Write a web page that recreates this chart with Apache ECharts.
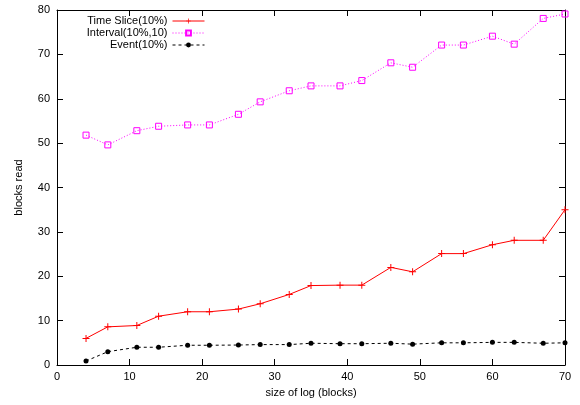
<!DOCTYPE html>
<html>
<head>
<meta charset="utf-8">
<script src="https://cdn.jsdelivr.net/npm/echarts@6/dist/echarts.min.js"></script>
<style>
html,body{margin:0;padding:0;background:#fff;}
#chart{width:580px;height:405px;}
</style>
</head>
<body>
<div id="chart"></div>
<script>
const logSizes = [4, 7, 11, 14, 18, 21, 25, 28, 32, 35, 39, 42, 46, 49, 53, 56, 60, 63, 67, 70];
const timeSlice = [6.0, 8.6, 8.9, 11.0, 12.0, 12.0, 12.6, 13.8, 15.9, 17.9, 18.0, 18.0, 22.0, 21.0, 25.1, 25.1, 27.1, 28.1, 28.1, 35.0];
const intervalVals = [51.8, 49.6, 52.8, 53.8, 54.1, 54.1, 56.5, 59.3, 61.8, 62.9, 62.9, 64.1, 68.1, 67.1, 72.1, 72.1, 74.1, 72.3, 78.1, 79.1];
const eventVals = [0.9, 3.0, 4.0, 4.0, 4.45, 4.45, 4.5, 4.6, 4.6, 4.9, 4.8, 4.8, 4.9, 4.7, 5.0, 5.0, 5.1, 5.1, 4.9, 5.0];
const seriesNames = ['Time Slice(10%)', 'Interval(10%,10)', 'Event(10%)'];
const xAxisName = 'size of log (blocks)';
const yAxisName = 'blocks read';

const pair = vals => logSizes.map((x, i) => [x, vals[i]]);
const font = 'Liberation Sans, Arial, Helvetica, sans-serif';
const plusPath = 'path://M3,0 H4 V3 H7 V4 H4 V7 H3 V4 H0 V3 H3 Z';

const baseX = {
  type: 'value', min: 0, max: 70, interval: 10,
  splitLine: {show: false},
  axisLine: {show: true, onZero: false, lineStyle: {color: '#000', width: 1}},
  axisTick: {show: true, inside: true, length: 6, lineStyle: {color: '#000'}}
};
const baseY = {
  type: 'value', min: 0, max: 80, interval: 10,
  splitLine: {show: false},
  axisLine: {show: true, onZero: false, lineStyle: {color: '#000', width: 1}},
  axisTick: {show: true, inside: true, length: 6, lineStyle: {color: '#000'}}
};

const chart = echarts.init(document.getElementById('chart'), null, {renderer: 'canvas'});
chart.setOption({
  animation: false,
  backgroundColor: '#fff',
  textStyle: {fontFamily: font},
  grid: {left: 57, right: 15, top: 10, bottom: 40, containLabel: false},
  legend: {
    orient: 'vertical', align: 'right', right: 370, top: 10,
    itemWidth: 32, itemHeight: 6, itemGap: 0,
    lineStyle: {width: 1},
    textStyle: {fontFamily: font, fontSize: 11, color: '#000', lineHeight: 12},
    data: seriesNames
  },
  xAxis: [
    Object.assign({}, baseX, {
      position: 'bottom',
      name: xAxisName, nameLocation: 'middle', nameGap: 22,
      nameTextStyle: {fontFamily: font, fontSize: 11, color: '#000'},
      axisLabel: {show: true, margin: 6, fontFamily: font, fontSize: 11, color: '#000'}
    }),
    Object.assign({}, baseX, {position: 'top', axisLabel: {show: false}})
  ],
  yAxis: [
    Object.assign({}, baseY, {
      position: 'left',
      name: yAxisName, nameLocation: 'middle', nameGap: 33, nameRotate: 90,
      nameTextStyle: {fontFamily: font, fontSize: 11, color: '#000'},
      axisLabel: {show: true, margin: 7, fontFamily: font, fontSize: 11, color: '#000'}
    }),
    Object.assign({}, baseY, {position: 'right', axisLabel: {show: false}})
  ],
  series: [
    {
      name: seriesNames[0], type: 'line', data: pair(timeSlice),
      xAxisIndex: 0, yAxisIndex: 0,
      symbol: plusPath, symbolSize: 7, showAllSymbol: true,
      lineStyle: {color: '#ff0000', width: 1, type: 'solid'},
      itemStyle: {color: '#ff0000'}
    },
    {
      name: seriesNames[1], type: 'line', data: pair(intervalVals),
      xAxisIndex: 0, yAxisIndex: 0,
      symbol: 'rect', symbolSize: 6, showAllSymbol: true,
      lineStyle: {color: '#ff00ff', width: 1, type: [1, 2]},
      itemStyle: {color: 'rgba(255,255,255,0)', borderColor: '#ff00ff', borderWidth: 1}
    },
    {
      name: seriesNames[2], type: 'line', data: pair(eventVals),
      xAxisIndex: 0, yAxisIndex: 0,
      symbol: 'circle', symbolSize: 5, showAllSymbol: true,
      lineStyle: {color: '#000', width: 1, type: [3, 3]},
      itemStyle: {color: '#000'}
    }
  ]
});
</script>
</body>
</html>
